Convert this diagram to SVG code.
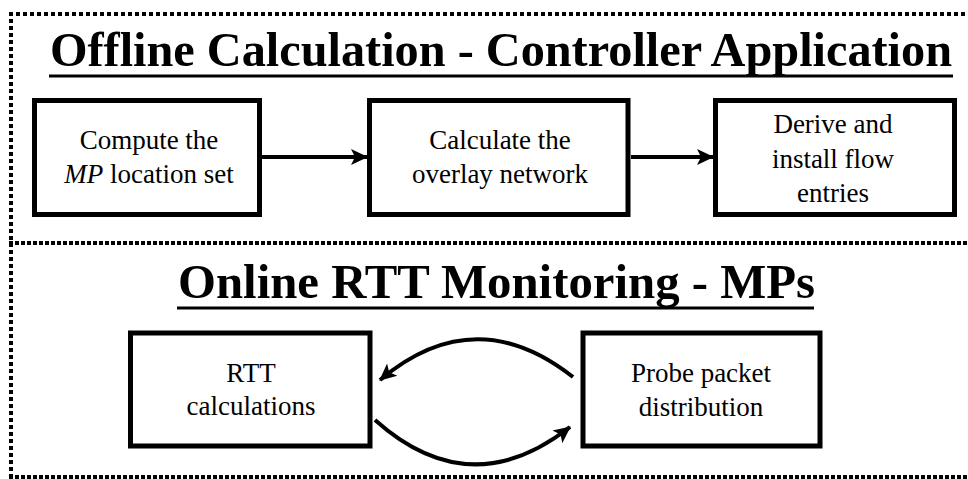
<svg xmlns="http://www.w3.org/2000/svg" width="968" height="479" viewBox="0 0 968 479">
<defs>
<style>
.box{fill:#fff;stroke:#000;stroke-width:5}
.t{font-family:'Liberation Serif','DejaVu Serif',serif;font-size:27px;fill:#000;text-anchor:middle}
.title{font-family:'Liberation Serif','DejaVu Serif',serif;font-size:48px;font-weight:bold;fill:#000}
.border{stroke:#000;stroke-width:4;fill:none;stroke-dasharray:4 3}
.conn{stroke:#000;stroke-width:4;fill:none}
</style>
<marker id="ah" markerUnits="userSpaceOnUse" markerWidth="18" markerHeight="18" viewBox="0 0 18 18" refX="16" refY="9" orient="auto">
<path d="M0,1 L17,9 L0,17 L4,9 Z" fill="#000"/>
</marker>
</defs>
<rect width="968" height="479" fill="#fff"/>
<g id="frame">
<line class="border" x1="9" y1="14" x2="968" y2="14"/>
<line class="border" x1="11" y1="12" x2="11" y2="479"/>
<line class="border" x1="9" y1="243" x2="968" y2="243" style="stroke-dasharray:4 2"/>
<line class="border" x1="9" y1="477" x2="968" y2="477" style="stroke-dasharray:4 2"/>
</g>
<g id="title-offline">
<text class="title" font-family="Liberation Serif" x="50" y="66" textLength="902" lengthAdjust="spacingAndGlyphs">Offline Calculation  - Controller Application</text>
<line x1="49" y1="76" x2="953" y2="76" stroke="#000" stroke-width="3"/>
</g>
<g id="title-online">
<text class="title" font-family="Liberation Serif" x="178" y="298" textLength="637" lengthAdjust="spacingAndGlyphs">Online RTT Monitoring - MPs</text>
<line x1="177" y1="308" x2="814" y2="308" stroke="#000" stroke-width="3"/>
</g>
<g id="connectors">
<line class="conn" x1="262" y1="157" x2="367" y2="157" marker-end="url(#ah)"/>
<line class="conn" x1="631" y1="157" x2="713" y2="157" marker-end="url(#ah)"/>
<path class="conn" d="M573,377 Q475,300 380,380" marker-end="url(#ah)"/>
<path class="conn" d="M375,420 Q470,505 570,427" marker-end="url(#ah)"/>
</g>
<g id="node-compute">
<rect class="box" x="34.5" y="100.5" width="225" height="114"/>
<text class="t" x="149" y="149">Compute the</text>
<text class="t" x="149" y="183"><tspan font-style="italic">MP</tspan> location  set</text>
</g>
<g id="node-overlay">
<rect class="box" x="369.5" y="100.5" width="258.5" height="114"/>
<text class="t" x="500" y="149">Calculate the</text>
<text class="t" x="500" y="183">overlay network</text>
</g>
<g id="node-derive">
<rect class="box" x="715.5" y="100.5" width="239" height="114"/>
<text class="t" x="833" y="133">Derive and</text>
<text class="t" x="833" y="168">install  flow</text>
<text class="t" x="833" y="202">entries</text>
</g>
<g id="node-rtt">
<rect class="box" x="130.5" y="333" width="239.5" height="113"/>
<text class="t" x="251" y="382">RTT</text>
<text class="t" x="251" y="415">calculations</text>
</g>
<g id="node-probe">
<rect class="box" x="583" y="333" width="237" height="113"/>
<text class="t" x="701" y="382">Probe packet</text>
<text class="t" x="701" y="416">distribution</text>
</g>
</svg>
